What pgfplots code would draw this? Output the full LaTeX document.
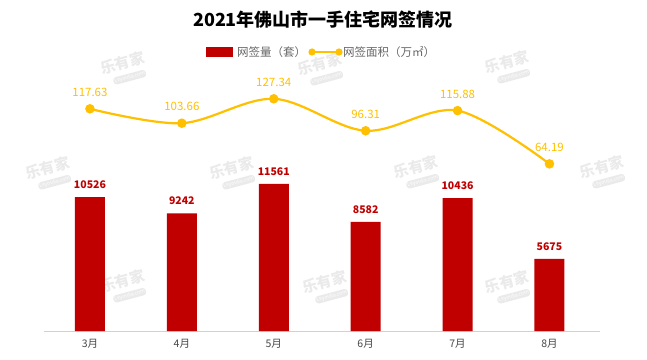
\documentclass[border=0pt]{standalone}
\usepackage{fontspec}
\setmainfont{Noto Sans CJK SC}
\usepackage{pgfplots}
\pgfplotsset{compat=1.18}
\definecolor{barred}{HTML}{C00000}
\definecolor{lineyel}{HTML}{FFC000}
\definecolor{wm}{HTML}{EAEAEA}
\begin{document}
\begin{tikzpicture}
\path[use as bounding box] (0pt,0pt) rectangle (647pt,359pt);
% watermarks
\foreach \wx/\wy in {123/295, 320/294, 507/296, 48/190, 232/190, 416/191, 602/191, 123/77, 325/76, 507/76}{
  \begin{scope}[shift={(\wx pt,\wy pt)}, rotate=15, transform shape]
  \node[text=wm, font=\bfseries\fontsize{15}{15}\selectfont, inner sep=0] at (0pt,1pt) {乐有家};
  \node[fill=wm, text=white, rounded corners=3pt, font=\fontsize{5}{5}\selectfont, inner sep=1.2pt] at (3pt,-14.5pt) {Leyoujia.com};
  \end{scope}
}
% title
\node[font=\bfseries\fontsize{18}{20}\selectfont] at (323pt,339pt) {2021年佛山市一手住宅网签情况};
% legend
\fill[barred] (206pt,302pt) rectangle (233pt,312pt);
\node[anchor=west, text=black!60, font=\fontsize{11.5}{12}\selectfont, inner sep=0] at (237pt,307pt) {网签量（套）};
\draw[lineyel, line width=2.2pt] (312pt,307pt) -- (339pt,307pt);
\fill[lineyel] (312pt,307pt) circle (3.6pt);
\fill[lineyel] (339pt,307pt) circle (3.6pt);
\node[anchor=west, text=black!60, font=\fontsize{11.5}{12}\selectfont, inner sep=0] at (343pt,307pt) {网签面积（万㎡）};

\begin{axis}[
  at={(89.95pt,28pt)}, anchor=origin,
  scale only axis, width=556pt, height=271pt,
  xmin=-0.5, xmax=5.55, ymin=0, ymax=21290,
  axis y line=none, axis x line*=bottom,
  x axis line style={draw=black!18, line width=0.8pt, -},
  xtick={0,1,2,3,4,5},
  xticklabels={3月,4月,5月,6月,7月,8月},
  major tick length=0pt,
  xticklabel style={font=\fontsize{10.5}{12}\selectfont, text=black!72, yshift=-5pt},
  ybar, bar width=30pt,
  point meta=explicit symbolic,
  nodes near coords,
  every node near coord/.append style={font=\bfseries\fontsize{10.5}{12}\selectfont, text=barred, yshift=5pt},
  clip=false,
]
\addplot[fill=barred, draw=none] coordinates {
  (0,10526)[10526] (1,9242)[9242] (2,11561)[11561] (3,8582)[8582] (4,10436)[10436] (5,5675)[5675]
};
\end{axis}

\begin{axis}[
  at={(89.95pt,128.98pt)}, anchor=origin,
  scale only axis, width=556pt, height=271pt,
  xmin=-0.5, xmax=5.55, ymin=-98, ymax=165,
  axis y line=none, axis x line=none,
  point meta=explicit symbolic,
  nodes near coords,
  every node near coord/.append style={font=\fontsize{11.5}{12}\selectfont, text=lineyel, yshift=8pt},
  clip=false,
]
\addplot[lineyel, line width=2.2pt, smooth, tension=0.55, mark=*, mark size=3.6pt, mark options={fill=lineyel, draw=lineyel}] coordinates {
  (0,117.63)[117.63] (1,103.66)[103.66] (2,127.34)[127.34] (3,96.31)[96.31] (4,115.88)[115.88] (5,64.19)[64.19]
};
\end{axis}
\end{tikzpicture}
\end{document}
